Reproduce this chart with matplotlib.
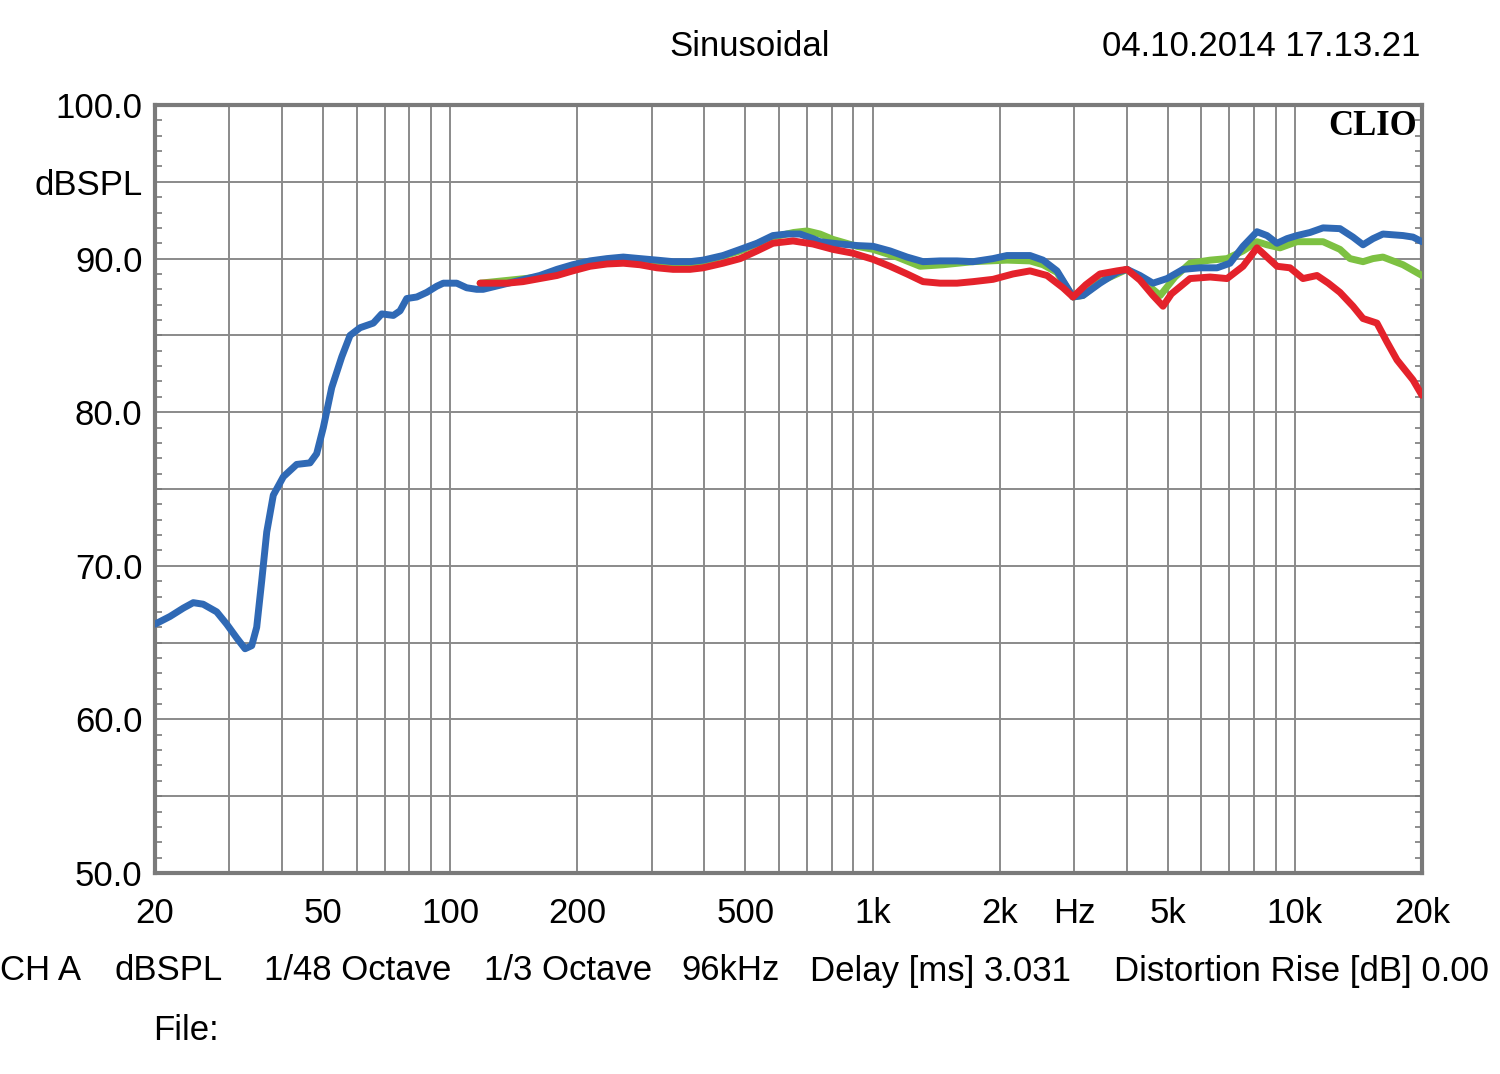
import matplotlib
matplotlib.use("Agg")
import matplotlib.pyplot as plt
import numpy as np

plt.rcParams['font.family'] = ['Liberation Sans', 'DejaVu Sans']

# ---- data (frequency Hz, level dBSPL) ----
blue_f = [20, 21.7, 23.35, 24.64, 26.0, 28.0, 29.57, 31.23, 32.68, 33.89, 34.82, 35.78,
          36.78, 38.12, 40.27, 43.3, 46.56, 48.29, 50.07, 52.42, 55.36, 57.93, 61.18,
          65.76, 68.85, 73.35, 76.08, 78.91, 83.34, 87.99, 92.91, 96.31, 103.6, 109.4,
          115.5, 119.7, 163, 179, 195, 214.3, 235.1, 257, 281.4, 308.8, 337, 369.7, 397,
          442.6, 486, 532.7, 581, 627, 673.4, 722.8, 750.9, 806, 837.3, 918.7, 1003,
          1100, 1207, 1317, 1445, 1585, 1730, 1929, 2081, 2360, 2533, 2734, 2984, 3150,
          3456, 3791, 4004, 4298, 4613, 4981, 5436, 5962, 6541, 7022, 7538, 8134, 8590,
          9072, 9580, 10116, 10858, 11660, 12788, 13728, 14500, 15312, 16166, 18032,
          19042, 20000]
blue_db = [66.2, 66.7, 67.25, 67.6, 67.5, 67.0, 66.2, 65.3, 64.6, 64.8, 66.0, 69.0,
           72.2, 74.6, 75.8, 76.6, 76.7, 77.3, 79.0, 81.6, 83.6, 85.0, 85.5,
           85.8, 86.4, 86.3, 86.6, 87.4, 87.5, 87.8, 88.2, 88.4, 88.4, 88.1,
           88.0, 88.0, 88.9, 89.3, 89.6, 89.85, 90.0, 90.1, 90.0, 89.9, 89.8, 89.8, 89.9,
           90.2, 90.6, 91.0, 91.5, 91.6, 91.6, 91.3, 91.1, 91.0, 90.95, 90.85, 90.8,
           90.5, 90.1, 89.8, 89.85, 89.85, 89.8, 90.0, 90.2, 90.2, 89.9, 89.2, 87.5, 87.6,
           88.4, 89.1, 89.3, 88.9, 88.4, 88.7, 89.3, 89.4, 89.4, 89.7, 90.8, 91.75, 91.5,
           91.0, 91.3, 91.5, 91.7, 92.0, 91.95, 91.4, 90.9, 91.3, 91.6, 91.5,
           91.4, 91.1]

green_f = [117.7, 163, 203, 257, 337, 390, 486, 581, 650, 700, 750.9, 806, 918.7, 1003,
           1143, 1296, 1469, 1730, 2081, 2360, 2533, 2734, 2984, 3150, 3456, 3791, 4004,
           4298, 4800, 5200, 5646, 6300, 6909, 7538, 8134, 8590, 9222, 10116, 10858,
           11660, 12788, 13506, 14500, 15312, 16166, 18032, 20000]
green_db = [88.4, 88.8, 89.7, 90.0, 89.7, 89.7, 90.5, 91.4, 91.7, 91.8, 91.6, 91.25, 90.8, 90.6,
            90.1, 89.5, 89.6, 89.8, 89.9, 89.85, 89.6, 89.1, 87.5, 87.6, 88.5, 89.0, 89.3,
            88.7, 87.6, 88.8, 89.7, 89.9, 90.0, 90.5, 91.1, 90.9, 90.7, 91.1, 91.1,
            91.1, 90.6, 90.0, 89.8, 90.0, 90.1, 89.6, 88.9]

red_f = [117.7, 136.3, 148.7, 163, 179, 195, 214.3, 235.1, 257, 281.4, 308.8, 337, 369.7,
         397, 442.6, 486, 532.7, 581, 648.3, 722.8, 806, 898.8, 1003, 1100, 1207, 1317,
         1445, 1585, 1730, 1929, 2151, 2360, 2589, 2825, 2984, 3200, 3456, 3791, 4004,
         4298, 4613, 4873, 5100, 5646, 6300, 6909, 7538, 8134, 8590, 9072, 9740,
         10452, 11282, 12000, 12788, 13728, 14500, 15644, 16500, 17454, 19042, 20000]
red_db = [88.4, 88.4, 88.5, 88.7, 88.9, 89.2, 89.5, 89.65, 89.7, 89.6, 89.4, 89.3, 89.3,
          89.4, 89.7, 90.0, 90.5, 91.0, 91.15, 90.95, 90.6, 90.35, 89.95, 89.5, 89.0, 88.5,
          88.4, 88.4, 88.5, 88.65, 89.0, 89.2, 88.9, 88.1, 87.5, 88.3, 89.0, 89.2, 89.3,
          88.6, 87.6, 86.9, 87.7, 88.7, 88.8, 88.7, 89.5, 90.7, 90.1, 89.5, 89.4,
          88.7, 88.9, 88.4, 87.8, 86.9, 86.1, 85.8, 84.6, 83.4, 82.1, 81.1]

xtick_vals = [20, 50, 100, 200, 500, 1000, 2000, 3000, 5000, 10000, 20000]
xtick_labels = ['20', '50', '100', '200', '500', '1k', '2k', 'Hz', '5k', '10k', '20k']
ytick_vals = [50, 60, 70, 80, 90, 95, 100]
ytick_labels = ['50.0', '60.0', '70.0', '80.0', '90.0', 'dBSPL', '100.0']

W, H = 1500, 1074
fig = plt.figure(figsize=(W / 100, H / 100), dpi=100)
ax = fig.add_axes([155 / W, 1 - 873 / H, (1422 - 155) / W, (873 - 105) / H])

ax.set_xscale('log')
ax.set_xlim(20, 20000)
ax.set_ylim(50, 100)

grid_c = '#8a8a8a'
for dec in [10, 100, 1000, 10000]:
    for m in range(1, 10):
        f = dec * m
        if 20 < f < 20000:
            ax.axvline(f, color=grid_c, lw=1.4, zorder=1)
for v in range(55, 100, 5):
    ax.axhline(v, color=grid_c, lw=1.4, zorder=1)

lw = 5.0
ax.plot(green_f, green_db, color='#7dc142', lw=lw, zorder=3,
        solid_capstyle='round', solid_joinstyle='round')
ax.plot(blue_f, blue_db, color='#2f69b5', lw=lw, zorder=4,
        solid_capstyle='round', solid_joinstyle='round')
ax.plot(red_f, red_db, color='#e4222b', lw=lw, zorder=5,
        solid_capstyle='round', solid_joinstyle='round')

for s in ax.spines.values():
    s.set_color('#7a7a7a')
    s.set_linewidth(3)

ax.set_xticks(xtick_vals)
ax.set_xticklabels(xtick_labels)
ax.xaxis.set_minor_locator(matplotlib.ticker.NullLocator())
ax.set_yticks(ytick_vals)
ax.set_yticklabels(ytick_labels)
ax.set_yticks(np.arange(50, 101, 1), minor=True)
ax.tick_params(axis='x', which='major', length=0, pad=17, labelsize=25)
ax.tick_params(axis='y', which='major', length=0, pad=9, labelsize=25)
ax.tick_params(axis='y', which='minor', direction='in', length=5, width=1.2,
               color='#7a7a7a', left=True, right=True)

ax.text(0.996, 0.993, 'CLIO', transform=ax.transAxes, ha='right', va='top',
        fontsize=25, fontweight='bold', family='Liberation Serif', zorder=6)

def ftext(x, y, s, ha='left'):
    fig.text(x / W, 1 - y / H, s, ha=ha, va='center', fontsize=25)

ftext(750, 46, 'Sinusoidal', ha='center')
ftext(1420, 46, '04.10.2014 17.13.21', ha='right')
ftext(0, 971, 'CH A')
ftext(114, 971, 'dBSPL')
ftext(264, 971, '1/48 Octave')
ftext(484, 971, '1/3 Octave')
ftext(681, 971, '96kHz')
ftext(810, 971, 'Delay [ms] 3.031')
ftext(1114, 971, 'Distortion Rise [dB] 0.00')
ftext(153, 1030, 'File:')

fig.savefig('out.png', dpi=100, facecolor='white')
